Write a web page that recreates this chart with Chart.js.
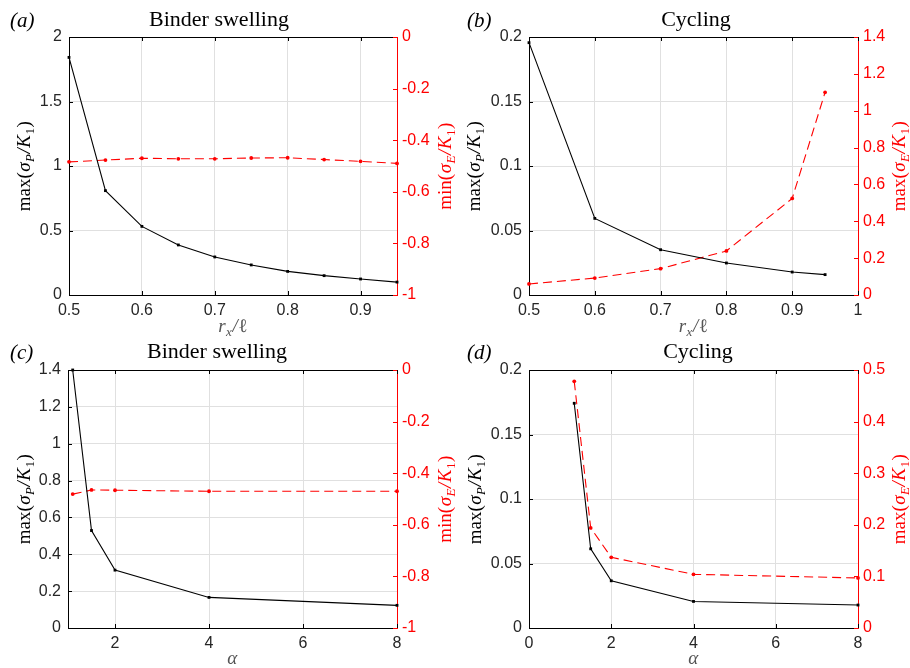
<!DOCTYPE html>
<html lang="en">
<head>
    <meta charset="UTF-8">
    <title>Binder swelling and cycling</title>
    <script src="https://cdn.jsdelivr.net/npm/chart.js"></script>
    <style>
        body {
            margin: 0;
            padding: 0;
            background-color: #ffffff;
        }
        #wrap {
            position: relative;
            width: 910px;
            height: 668px;
        }
        #wrap canvas {
            position: absolute;
            left: 0;
            top: 0;
        }
    </style>
</head>
<body>
    <div id="wrap">
        <canvas id="chartA" width="910" height="668"></canvas>
        <canvas id="chartB" width="910" height="668"></canvas>
        <canvas id="chartC" width="910" height="668"></canvas>
        <canvas id="chartD" width="910" height="668"></canvas>
    </div>
    <script>
        // (a) binder swelling vs r_x/l
        const rxA = [0.5, 0.55, 0.6, 0.65, 0.7, 0.75, 0.8, 0.85, 0.9, 0.95];
        const sigmaPA = [1.842, 0.809, 0.532, 0.388, 0.295, 0.233, 0.183, 0.150, 0.124, 0.100];
        const sigmaEA = [-0.484, -0.477, -0.470, -0.472, -0.472, -0.469, -0.468, -0.475, -0.482, -0.490];

        // (b) cycling vs r_x/l
        const rxB = [0.5, 0.6, 0.7, 0.8, 0.9, 0.95];
        const sigmaPB = [0.1956, 0.0594, 0.0351, 0.0248, 0.0178, 0.0158];
        const sigmaEB = [0.060, 0.092, 0.143, 0.239, 0.524, 1.100];

        // (c) binder swelling vs alpha
        const alphaC = [1.1, 1.5, 2, 4, 8];
        const sigmaPC = [1.40, 0.529, 0.314, 0.166, 0.123];
        const sigmaEC = [-0.481, -0.465, -0.466, -0.470, -0.470];

        // (d) cycling vs alpha
        const alphaD = [1.1, 1.5, 2, 4, 8];
        const sigmaPD = [0.1742, 0.0614, 0.0366, 0.0206, 0.0178];
        const sigmaED = [0.478, 0.194, 0.137, 0.104, 0.097];

        // tick values
        const xTicksRx = [0.5, 0.6, 0.7, 0.8, 0.9];
        const xTicksRxB = [0.5, 0.6, 0.7, 0.8, 0.9, 1];
        const xTicksAlphaC = [2, 4, 6, 8];
        const xTicksAlphaD = [0, 2, 4, 6, 8];
        const yTicksA = [0, 0.5, 1, 1.5, 2];
        const yTicksB = [0, 0.05, 0.1, 0.15, 0.2];
        const yTicksC = [0, 0.2, 0.4, 0.6, 0.8, 1, 1.2, 1.4];
        const yTicksD = [0, 0.05, 0.1, 0.15, 0.2];
        const yRightTicksMin = [-1, -0.8, -0.6, -0.4, -0.2, 0];
        const yRightTicksB = [0, 0.2, 0.4, 0.6, 0.8, 1, 1.2, 1.4];
        const yRightTicksD = [0, 0.1, 0.2, 0.3, 0.4, 0.5];

        // texts (segment, style: i = italic, s = subscript)
        const titleSwelling = 'Binder swelling';
        const titleCycling = 'Cycling';
        const labelPMax = [['max(', ''], ['σ', 'i'], ['P', 'is'], ['/', 'i'], ['K', 'i'], ['1', 's'], [')', '']];
        const labelEMin = [['min(', ''], ['σ', 'i'], ['E', 'is'], ['/', 'i'], ['K', 'i'], ['1', 's'], [')', '']];
        const labelEMax = [['max(', ''], ['σ', 'i'], ['E', 'is'], ['/', 'i'], ['K', 'i'], ['1', 's'], [')', '']];
        const labelRx = [['r', 'i'], ['x', 'is'], ['/', 'i'], ['ℓ', '']];
        const labelAlpha = [['α', 'i']];

        const SERIF = '"Liberation Serif", "DejaVu Serif", serif';
        const SANS = '"Liberation Sans", Arial, sans-serif';

        function drawRich(ctx, segs, x, y, size, color, rotate) {
            const fontFor = st => (st.includes('i') ? 'italic ' : '') +
                (st.includes('s') ? Math.round(size * 0.68) : size) + 'px ' + SERIF;
            ctx.save();
            ctx.translate(x, y);
            if (rotate) ctx.rotate(-Math.PI / 2);
            ctx.fillStyle = color;
            ctx.textBaseline = 'alphabetic';
            ctx.textAlign = 'left';
            let w = 0;
            segs.forEach(([t, st]) => { ctx.font = fontFor(st); w += ctx.measureText(t).width + 0.5; });
            let cx = -w / 2;
            segs.forEach(([t, st]) => {
                ctx.font = fontFor(st);
                ctx.fillText(t, cx, st.includes('s') ? size * 0.22 : 0);
                cx += ctx.measureText(t).width + 0.5;
            });
            ctx.restore();
        }

        // frame, inner tick marks and labels
        const decor = {
            id: 'decor',
            afterDatasetsDraw(chart, args, o) {
                const ctx = chart.ctx;
                const a = chart.chartArea;
                const sx = chart.scales.x, yl = chart.scales.yL, yr = chart.scales.yR;
                ctx.save();
                ctx.lineWidth = 1;
                ctx.strokeStyle = '#000';
                ctx.beginPath();
                ctx.moveTo(a.left, a.top + 0.5);
                ctx.lineTo(a.right, a.top + 0.5);
                sx.ticks.forEach(t => {
                    const px = Math.round(sx.getPixelForValue(t.value)) + 0.5;
                    ctx.moveTo(px, a.bottom); ctx.lineTo(px, a.bottom - 4);
                    ctx.moveTo(px, a.top); ctx.lineTo(px, a.top + 4);
                });
                yl.ticks.forEach(t => {
                    const py = Math.round(yl.getPixelForValue(t.value)) + 0.5;
                    ctx.moveTo(a.left, py); ctx.lineTo(a.left + 4, py);
                });
                ctx.stroke();
                ctx.strokeStyle = '#ff0000';
                ctx.beginPath();
                yr.ticks.forEach(t => {
                    const py = Math.round(yr.getPixelForValue(t.value)) + 0.5;
                    ctx.moveTo(a.right, py); ctx.lineTo(a.right - 4, py);
                });
                ctx.stroke();
                ctx.restore();

                ctx.save();
                ctx.fillStyle = '#000';
                ctx.textAlign = 'center';
                ctx.textBaseline = 'alphabetic';
                ctx.font = '22px ' + SERIF;
                ctx.fillText(o.title, o.titleX, o.titleY);
                ctx.textAlign = 'left';
                ctx.font = 'italic 21px ' + SERIF;
                ctx.fillText(o.tag, o.tagX, o.titleY + 1);
                ctx.restore();

                drawRich(ctx, o.yLeftLabel, o.yLeftX, (a.top + a.bottom) / 2, 19, '#000', true);
                drawRich(ctx, o.yRightLabel, o.yRightX, (a.top + a.bottom) / 2, 19, '#ff0000', true);
                drawRich(ctx, o.xLabel, (a.left + a.right) / 2, o.xLabelY, 19, '#555', false);
            }
        };

        function makePanel(id, p) {
            const AXW = 50, AXH = 30;
            const tickFont = { family: SANS, size: 16 };
            new Chart(document.getElementById(id), {
                type: 'line',
                data: {
                    datasets: [{
                        data: p.x.map((v, i) => ({ x: v, y: p.left[i] })),
                        yAxisID: 'yL',
                        borderColor: '#000000',
                        backgroundColor: '#000000',
                        borderWidth: 1.1,
                        pointStyle: 'rect',
                        pointRadius: 2,
                        pointBorderWidth: 0,
                        tension: 0,
                        clip: false
                    }, {
                        data: p.x.map((v, i) => ({ x: v, y: p.right[i] })),
                        yAxisID: 'yR',
                        borderColor: '#ff0000',
                        backgroundColor: '#ff0000',
                        borderWidth: 1.1,
                        borderDash: [9, 5],
                        pointStyle: 'circle',
                        pointRadius: 1.9,
                        pointBorderWidth: 0,
                        tension: 0,
                        clip: false
                    }]
                },
                options: {
                    responsive: false,
                    animation: false,
                    events: [],
                    layout: {
                        padding: {
                            left: p.area.left - AXW,
                            right: 910 - p.area.right - AXW,
                            top: p.area.top,
                            bottom: 668 - p.area.bottom - AXH
                        }
                    },
                    plugins: {
                        legend: { display: false },
                        tooltip: { enabled: false },
                        decor: p.text
                    },
                    scales: {
                        x: {
                            type: 'linear',
                            min: p.xMin,
                            max: p.xMax,
                            afterBuildTicks: s => { s.ticks = p.xTicks.map(v => ({ value: v })); },
                            afterFit: s => { s.height = AXH; },
                            grid: { color: '#e0e0e0', drawTicks: false },
                            border: { color: '#000000', width: 1 },
                            ticks: { font: tickFont, color: '#262626', padding: 6, maxRotation: 0, autoSkip: false, callback: v => String(v) }
                        },
                        yL: {
                            type: 'linear',
                            position: 'left',
                            min: p.leftMin,
                            max: p.leftMax,
                            afterBuildTicks: s => { s.ticks = p.leftTicks.map(v => ({ value: v })); },
                            afterFit: s => { s.width = AXW; },
                            grid: { color: '#e0e0e0', drawTicks: false },
                            border: { color: '#000000', width: 1 },
                            ticks: { font: tickFont, color: '#262626', padding: 7, autoSkip: false, callback: v => String(v) }
                        },
                        yR: {
                            type: 'linear',
                            position: 'right',
                            min: p.rightMin,
                            max: p.rightMax,
                            afterBuildTicks: s => { s.ticks = p.rightTicks.map(v => ({ value: v })); },
                            afterFit: s => { s.width = AXW; },
                            grid: { display: false, drawTicks: false },
                            border: { color: '#ff0000', width: 1 },
                            ticks: { font: tickFont, color: '#ff0000', padding: 5, autoSkip: false, callback: v => String(v) }
                        }
                    }
                },
                plugins: [decor]
            });
        }

        makePanel('chartA', {
            x: rxA, left: sigmaPA, right: sigmaEA,
            xMin: 0.5, xMax: 0.95, xTicks: xTicksRx,
            leftMin: 0, leftMax: 2, leftTicks: yTicksA,
            rightMin: -1, rightMax: 0, rightTicks: yRightTicksMin,
            area: { left: 69, right: 397, top: 37, bottom: 295 },
            text: { title: titleSwelling, titleX: 219, titleY: 26, tag: '(a)', tagX: 10,
                    yLeftLabel: labelPMax, yLeftX: 30, yRightLabel: labelEMin, yRightX: 451,
                    xLabel: labelRx, xLabelY: 332 }
        });

        makePanel('chartB', {
            x: rxB, left: sigmaPB, right: sigmaEB,
            xMin: 0.5, xMax: 1, xTicks: xTicksRxB,
            leftMin: 0, leftMax: 0.2, leftTicks: yTicksB,
            rightMin: 0, rightMax: 1.4, rightTicks: yRightTicksB,
            area: { left: 529, right: 858, top: 37, bottom: 295 },
            text: { title: titleCycling, titleX: 696, titleY: 26, tag: '(b)', tagX: 467,
                    yLeftLabel: labelPMax, yLeftX: 480, yRightLabel: labelEMax, yRightX: 905,
                    xLabel: labelRx, xLabelY: 332 }
        });

        makePanel('chartC', {
            x: alphaC, left: sigmaPC, right: sigmaEC,
            xMin: 1, xMax: 8, xTicks: xTicksAlphaC,
            leftMin: 0, leftMax: 1.4, leftTicks: yTicksC,
            rightMin: -1, rightMax: 0, rightTicks: yRightTicksMin,
            area: { left: 68, right: 397, top: 370, bottom: 628 },
            text: { title: titleSwelling, titleX: 217, titleY: 358, tag: '(c)', tagX: 10,
                    yLeftLabel: labelPMax, yLeftX: 30, yRightLabel: labelEMin, yRightX: 451,
                    xLabel: labelAlpha, xLabelY: 664 }
        });

        makePanel('chartD', {
            x: alphaD, left: sigmaPD, right: sigmaED,
            xMin: 0, xMax: 8, xTicks: xTicksAlphaD,
            leftMin: 0, leftMax: 0.2, leftTicks: yTicksD,
            rightMin: 0, rightMax: 0.5, rightTicks: yRightTicksD,
            area: { left: 529, right: 858, top: 370, bottom: 628 },
            text: { title: titleCycling, titleX: 698, titleY: 358, tag: '(d)', tagX: 467,
                    yLeftLabel: labelPMax, yLeftX: 481, yRightLabel: labelEMax, yRightX: 905,
                    xLabel: labelAlpha, xLabelY: 664 }
        });
    </script>
</body>
</html>
